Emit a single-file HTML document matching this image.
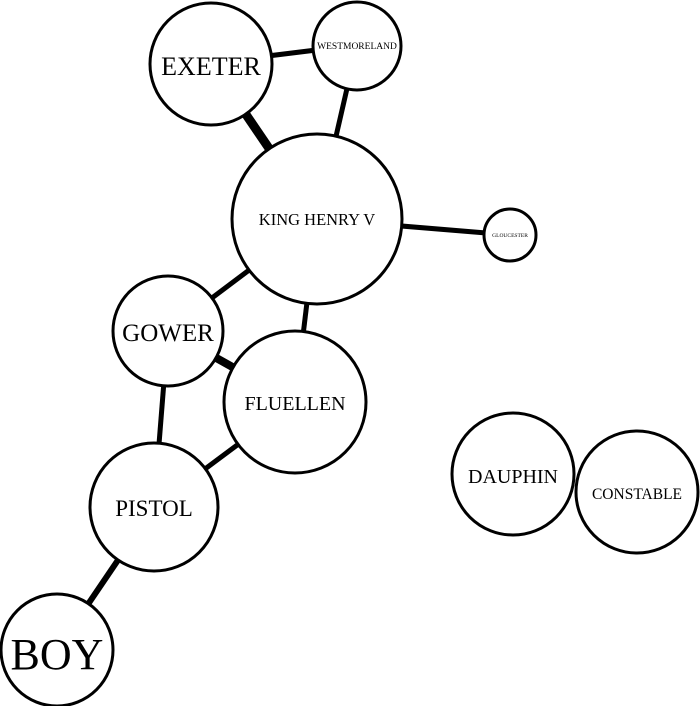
<!DOCTYPE html>
<html><head><meta charset="utf-8"><style>
html,body{margin:0;padding:0;background:#fff;}
svg{display:block;}
text{font-family:"Liberation Serif",serif;fill:#000;text-anchor:middle;}
</style></head><body>
<svg width="700" height="706" viewBox="0 0 700 706" xmlns="http://www.w3.org/2000/svg">
<g stroke="#000" stroke-linecap="butt">
<line x1="211" y1="63" x2="317" y2="219" stroke-width="9"/>
<line x1="211" y1="63" x2="357" y2="45" stroke-width="5"/>
<line x1="357" y1="45" x2="317" y2="219" stroke-width="5"/>
<line x1="317" y1="219" x2="510" y2="235" stroke-width="5"/>
<line x1="317" y1="219" x2="168" y2="331" stroke-width="5"/>
<line x1="317" y1="219" x2="295" y2="402" stroke-width="5"/>
<line x1="168" y1="331" x2="295" y2="402" stroke-width="8"/>
<line x1="168" y1="331" x2="154" y2="507" stroke-width="5"/>
<line x1="295" y1="402" x2="154" y2="507" stroke-width="5"/>
<line x1="154" y1="507" x2="57" y2="650" stroke-width="6"/>
</g>
<g fill="#fff" stroke="#000" stroke-width="3">
<circle cx="211" cy="64" r="61"/>
<circle cx="357" cy="46" r="44"/>
<circle cx="317" cy="219" r="85"/>
<circle cx="510" cy="235" r="26"/>
<circle cx="168" cy="331" r="55"/>
<circle cx="295" cy="402" r="71"/>
<circle cx="154" cy="507" r="64"/>
<circle cx="57" cy="650" r="56"/>
<circle cx="513" cy="474" r="61"/>
<circle cx="637" cy="492" r="61"/>
</g>
<text x="211" y="75" font-size="26">EXETER</text>
<text x="357" y="49" font-size="9.5">WESTMORELAND</text>
<text x="317" y="225" font-size="16.5">KING HENRY V</text>
<text x="510" y="237" font-size="5.5">GLOUCESTER</text>
<text x="168" y="341" font-size="25">GOWER</text>
<text x="295" y="410" font-size="20">FLUELLEN</text>
<text x="154" y="516" font-size="23">PISTOL</text>
<text x="57" y="669" font-size="44">BOY</text>
<text x="513" y="483" font-size="20">DAUPHIN</text>
<text x="637" y="499" font-size="15.5">CONSTABLE</text>
</svg>
</body></html>
